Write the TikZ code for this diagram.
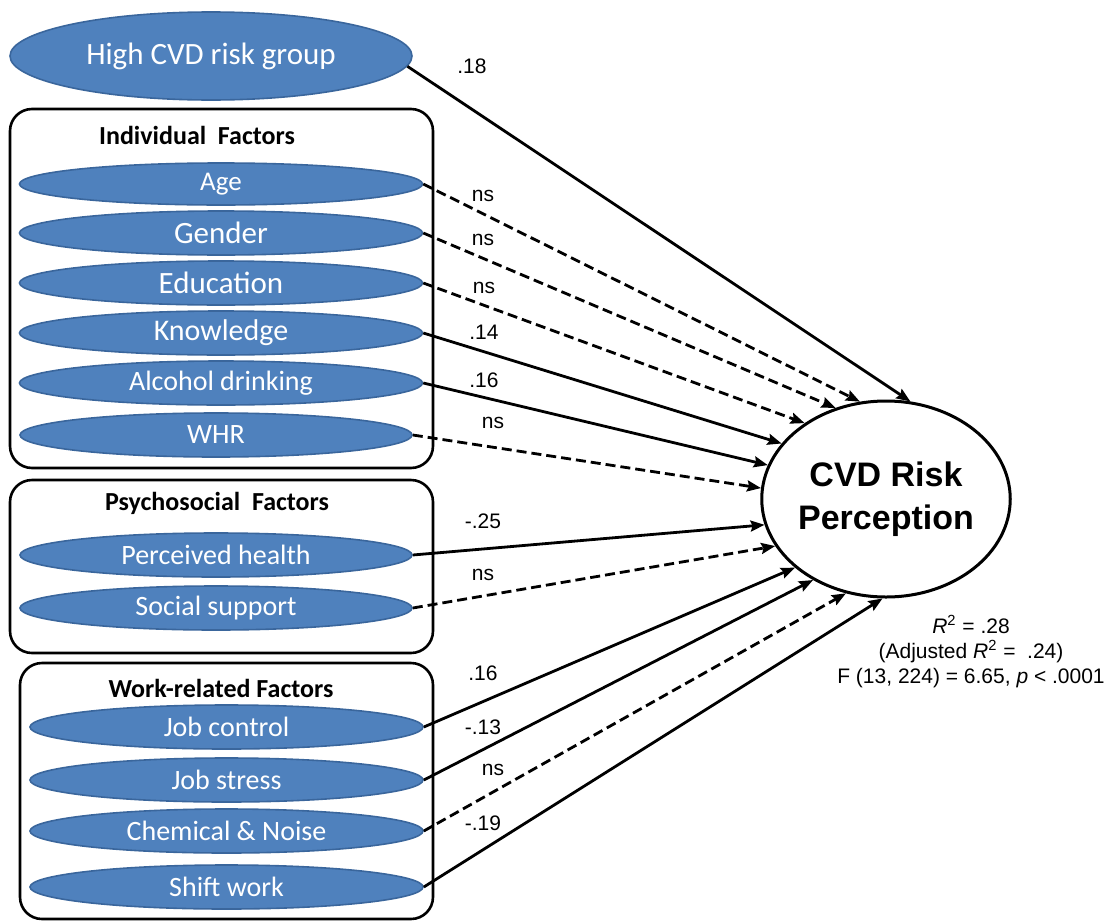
\documentclass[tikz,border=0pt]{standalone}
\usepackage{fontspec}
\setmainfont{Liberation Sans}
\newfontfamily\ellfont{Carlito}
\usetikzlibrary{arrows.meta}
\usetikzlibrary{shapes.geometric}
\definecolor{factorblue}{HTML}{4F81BD}
\definecolor{factoredge}{HTML}{3A669C}

\begin{document}
\begin{tikzpicture}
	[x=0.5pt, y=-0.5pt,
	 factor/.style={ellipse, draw=factoredge, line width=0.8pt, fill=factorblue, text=white, inner sep=0pt, minimum height=22pt, font=\ellfont\fontsize{14}{16}\selectfont},
	 groupbox/.style={draw, line width=1.3pt, rounded corners=11pt},
	 heading/.style={font=\ellfont\bfseries\fontsize{13}{15}\selectfont},
	 sig/.style={line width=1.4pt, -{Stealth[length=7pt,width=5.5pt,inset=1pt]}},
	 nonsig/.style={sig, dash pattern=on 5pt off 2.5pt},
	 coef/.style={font=\fontsize{10.5}{12}\selectfont}]

	\useasboundingbox (0,0) rectangle (1113,921);

	%Groups
	\draw[groupbox] (10,109) rectangle (433,468);
	\draw[groupbox] (10,480) rectangle (433,653);
	\draw[groupbox] (20,663) rectangle (433,919);
	\node[heading] (hind) at (197,135) {Individual\ \ Factors};
	\node[heading] (hpsy) at (217,503) {Psychosocial\ \ Factors};
	\node[heading] (hwork) at (221,688) {Work-related Factors};

	%Predictors
	\node[factor, minimum width=201pt, minimum height=44pt, font=\ellfont\fontsize{15.5}{18}\selectfont] (high) at (211,56) {High CVD risk group};
	\node[factor, minimum width=201.5pt, minimum height=21pt, font=\ellfont\fontsize{13.5}{16}\selectfont] (age) at (221,184) {Age};
	\node[factor, minimum width=201.5pt, font=\ellfont\fontsize{15.5}{18}\selectfont] (gender) at (221,233) {Gender};
	\node[factor, minimum width=201.5pt, font=\ellfont\fontsize{15.5}{18}\selectfont] (education) at (221,283) {Education};
	\node[factor, minimum width=201.5pt, font=\ellfont\fontsize{15}{18}\selectfont] (knowledge) at (221,333) {Knowledge};
	\node[factor, minimum width=201.5pt] (alcohol) at (221,383) {Alcohol drinking};
	\node[factor, minimum width=196pt] (whr) at (216,435) {WHR};
	\node[factor, minimum width=196pt] (perceived) at (216,555) {Perceived health};
	\node[factor, minimum width=196pt] (social) at (216,608) {Social support};
	\node[factor, minimum width=196.5pt] (jobcontrol) at (226.5,727) {Job control};
	\node[factor, minimum width=196.5pt] (jobstress) at (226.5,780) {Job stress};
	\node[factor, minimum width=196.5pt] (chemical) at (226.5,831) {Chemical \& Noise};
	\node[factor, minimum width=196.5pt] (shift) at (226.5,887) {Shift work};

	%Outcome
	\node[ellipse, draw, line width=1.5pt, minimum width=112pt, minimum height=98pt, inner sep=0pt, align=center, font=\bfseries\fontsize{17}{21.5}\selectfont] (cvd) at (886,499) {CVD Risk\\Perception};
	\node[align=center, font=\fontsize{10.5}{12.5}\selectfont] (fit) at (971,652) {\textit{R}\textsuperscript{2} = .28\\(Adjusted \textit{R}\textsuperscript{2} =\ \ .24)\\F (13, 224) = 6.65, \textit{p} < .0001};

	%Paths
	\draw[sig] (high.-3.5) -- (cvd.76);
	\draw[nonsig] (age.east) -- (cvd.105);
	\draw[nonsig] (gender.east) -- (cvd.119);
	\draw[nonsig] (education.east) -- (cvd.137);
	\draw[sig] (knowledge.east) -- (cvd.152);
	\draw[sig] (alcohol.east) -- (cvd.164);
	\draw[nonsig] (whr.east) -- (cvd.175);
	\draw[sig] (perceived.east) -- (cvd.192);
	\draw[nonsig] (social.east) -- (cvd.203);
	\draw[sig] (jobcontrol.east) -- (cvd.217);
	\draw[sig] (jobstress.east) -- (cvd.228);
	\draw[nonsig] (chemical.east) -- (cvd.247);
	\draw[sig] (shift.east) -- (cvd.268);

	%Coefficients
	\node[coef] (c1) at (472,66) {.18};
	\node[coef] (c2) at (483,196) {ns};
	\node[coef] (c3) at (483,240) {ns};
	\node[coef] (c4) at (484,288) {ns};
	\node[coef] (c5) at (484,332) {.14};
	\node[coef] (c6) at (484,380) {.16};
	\node[coef] (c7) at (493,423) {ns};
	\node[coef] (c8) at (483,521) {-.25};
	\node[coef] (c9) at (483,575) {ns};
	\node[coef] (c10) at (483,673) {.16};
	\node[coef] (c11) at (483,727) {-.13};
	\node[coef] (c12) at (493,770) {ns};
	\node[coef] (c13) at (483,823) {-.19};
\end{tikzpicture}
\end{document}
